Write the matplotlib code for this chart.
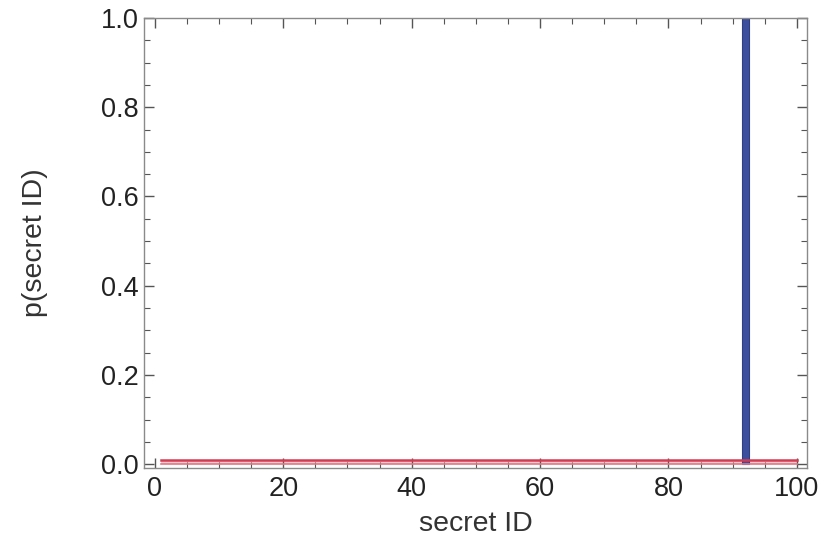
import numpy as np
import matplotlib.pyplot as plt
from matplotlib.ticker import MultipleLocator

plt.rcParams['font.family'] = ['Liberation Sans', 'DejaVu Sans']

# prior: uniform over the 100 secret IDs
secret_ids = np.arange(1, 101)
prior = np.full(100, 0.01)
# posterior: all the mass on one ID
true_id = 92
posterior_p = 1.0

fig = plt.figure(figsize=(8.27, 5.45), dpi=100)
ax = fig.add_axes([0.174, 0.141, 0.802, 0.826])

ax.fill_between(secret_ids, 0, prior, color='#f7c9cf', lw=0)
ax.plot(secret_ids, prior, color='#d23c52', lw=1.8)
ax.plot(secret_ids, np.zeros_like(prior), color='#e07885', lw=1.2)

ax.bar([true_id], [posterior_p], width=1.0, color='#3b4f9e', edgecolor='#2f3f85', lw=0.8)

ax.set_xlim(-1.7, 101.6)
ax.set_ylim(-0.009, 1.0)
ax.xaxis.set_major_locator(MultipleLocator(20))
ax.xaxis.set_minor_locator(MultipleLocator(5))
ax.yaxis.set_major_locator(MultipleLocator(0.2))
ax.yaxis.set_minor_locator(MultipleLocator(0.05))
ax.yaxis.set_major_formatter(plt.FuncFormatter(lambda v, p: f'{v:.1f}'))

for s in ax.spines.values():
    s.set_color('#8a8a8a')
    s.set_linewidth(1.0)
ax.tick_params(which='both', direction='in', top=True, right=True,
               color='#555555', labelsize=19.5, labelcolor='#222222')
ax.tick_params(which='major', length=7, width=1)
ax.tick_params(which='minor', length=4, width=0.8)
ax.tick_params(axis='x', pad=6)

ax.set_xlabel('secret ID', fontsize=20.5, color='#333333', labelpad=6)
ax.set_ylabel('p(secret ID)', fontsize=20.5, color='#333333', labelpad=38)

plt.savefig('out.png', dpi=100)
